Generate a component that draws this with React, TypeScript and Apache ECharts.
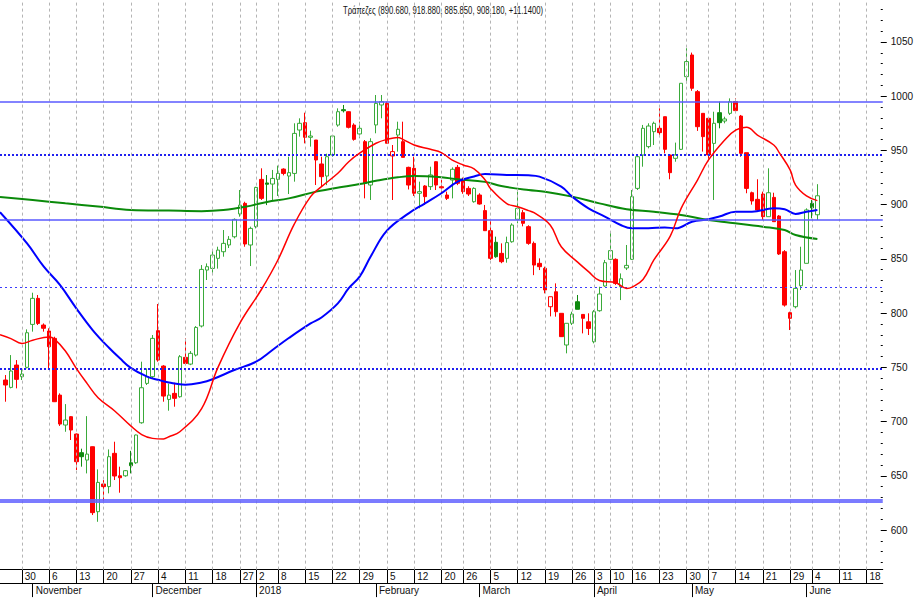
import React, { useEffect, useRef } from 'react';
import * as echarts from 'echarts';

// ---------- data ----------
const TITLE = 'Τράπεζες (890.680, 918.880, 885.850, 908.180, +11.1400)';
const HOLIDAYS = ['2017-12-25', '2017-12-26', '2018-01-01', '2018-02-19', '2018-03-30', '2018-04-02', '2018-04-06', '2018-04-09', '2018-05-01', '2018-05-28'];
const FIRST_DAY = [2017, 9, 24];
const LAST_DAY = [2018, 5, 21];
const MONTH_NAMES = ['', 'January', 'February', 'March', 'April', 'May', 'June', 'July', 'August', 'September', 'October', 'November', 'December'];

// candles from 2017-10-25 to 2018-06-05 (one per trading day)
const OPEN = [738.3, 731.5, 752.1, 741.4, 750.0, 789.6, 813.6, 789.0, 783.5, 776.7, 724.4, 696.8, 704.5, 688.5, 671.3, 664.5, 676.8, 616.9, 642.4, 640.0, 670.7, 650.0, 650.0, 662.0, 662.0, 698.9, 735.2, 741.4, 783.8, 751.2, 720.4, 726.0, 722.9, 759.2, 753.0, 761.3, 788.1, 839.7, 841.2, 850.5, 856.6, 862.8, 870.4, 891.4, 901.2, 862.8, 879.7, 923.3, 920.0, 919.0, 923.3, 932.8, 926.4, 928.8, 968.8, 975.6, 962.1, 959.6, 937.5, 926.4, 945.8, 973.4, 987.6, 985.7, 973.4, 965.2, 958.1, 918.1, 973.5, 991.9, 993.4, 944.9, 964.2, 958.1, 934.4, 933.5, 910.5, 917.2, 916.6, 939.6, 916.5, 908.9, 922.7, 934.4, 923.4, 915.0, 902.7, 908.9, 894.5, 876.0, 865.3, 855.1, 850.5, 865.8, 886.5, 892.6, 879.7, 864.3, 845.9, 841.3, 805.9, 819.7, 799.8, 770.6, 790.6, 810.5, 798.8, 792.0, 773.6, 802.2, 825.0, 849.6, 849.6, 824.3, 841.6, 849.6, 915.0, 945.8, 953.5, 967.3, 970.4, 981.1, 945.8, 942.7, 951.0, 1018.0, 1038.0, 1004.2, 984.2, 979.6, 956.5, 984.8, 977.1, 984.2, 995.0, 981.7, 947.9, 911.0, 904.9, 909.8, 888.9, 906.7, 889.5, 856.6, 800.4, 805.9, 825.2, 845.9, 901.2, 890.68];
const HIGH = [742.9, 761.3, 756.7, 749.0, 785.0, 818.8, 816.7, 790.5, 786.0, 778.2, 726.0, 716.1, 705.0, 689.0, 675.0, 705.0, 677.0, 655.9, 646.0, 674.3, 681.4, 658.4, 655.3, 673.0, 688.0, 755.2, 749.0, 779.8, 808.4, 752.0, 735.0, 735.8, 761.3, 776.7, 765.0, 788.0, 844.3, 845.8, 858.1, 861.2, 876.6, 871.0, 887.3, 913.5, 902.7, 879.7, 916.5, 933.5, 927.3, 932.0, 936.0, 933.5, 944.2, 975.0, 979.6, 984.8, 968.2, 959.6, 944.2, 947.0, 964.2, 988.8, 991.9, 986.0, 975.0, 976.5, 959.6, 961.2, 1001.1, 1001.1, 995.0, 955.0, 976.5, 976.5, 935.0, 944.2, 921.2, 918.0, 935.0, 940.0, 922.7, 912.0, 934.4, 936.6, 925.0, 917.0, 916.0, 910.5, 899.7, 885.9, 870.5, 864.3, 870.5, 882.8, 912.0, 895.0, 881.0, 866.0, 850.5, 842.8, 815.1, 827.4, 799.8, 790.6, 801.3, 816.7, 798.8, 799.8, 802.8, 824.3, 849.0, 874.2, 850.5, 836.6, 862.8, 913.5, 945.8, 973.5, 975.0, 976.5, 988.8, 981.1, 945.8, 957.2, 1011.9, 1044.2, 1040.2, 1005.7, 984.2, 979.6, 985.7, 995.0, 981.1, 998.0, 998.0, 982.7, 947.9, 912.0, 923.4, 912.0, 933.5, 911.0, 890.4, 858.1, 801.3, 839.7, 861.2, 896.6, 904.3, 918.88];
const LOW = [718.3, 730.6, 730.6, 738.3, 749.0, 782.9, 789.0, 782.9, 749.0, 718.0, 696.0, 690.6, 683.0, 655.3, 658.4, 652.2, 613.8, 607.6, 626.1, 633.8, 646.1, 634.4, 649.1, 652.2, 661.0, 698.0, 733.7, 740.0, 755.2, 718.3, 710.0, 713.7, 722.0, 753.6, 752.0, 760.0, 786.8, 830.5, 837.2, 841.0, 852.0, 860.0, 868.9, 888.9, 861.2, 843.4, 878.1, 904.3, 899.6, 904.3, 908.0, 927.0, 909.8, 921.2, 962.7, 956.5, 953.5, 918.1, 916.5, 918.0, 944.2, 971.9, 985.0, 970.3, 959.0, 961.2, 905.8, 904.3, 965.8, 979.6, 956.6, 904.3, 948.9, 943.6, 914.0, 908.0, 896.6, 899.7, 913.5, 913.5, 910.5, 904.3, 905.8, 918.0, 910.0, 908.0, 901.8, 900.0, 876.0, 849.0, 851.0, 846.0, 846.5, 864.9, 882.8, 880.0, 863.0, 835.0, 839.7, 818.2, 797.0, 796.7, 778.0, 762.9, 789.0, 803.5, 781.3, 779.8, 772.1, 801.3, 824.3, 849.0, 826.0, 812.0, 839.7, 849.0, 913.5, 935.0, 951.9, 955.0, 962.7, 947.3, 923.4, 939.6, 950.4, 1011.9, 1005.0, 968.0, 948.9, 941.2, 904.3, 970.4, 975.0, 982.7, 985.0, 944.2, 910.5, 900.0, 893.5, 885.9, 888.9, 884.3, 853.6, 806.0, 784.4, 804.4, 821.3, 845.9, 887.4, 885.85];
const CLOSE = [733.7, 746.6, 738.9, 743.8, 781.9, 813.6, 790.5, 786.0, 769.0, 718.3, 697.7, 701.4, 692.2, 663.0, 667.6, 670.0, 616.0, 643.9, 640.0, 667.6, 649.8, 648.2, 654.7, 659.3, 687.6, 731.2, 741.4, 776.7, 756.7, 723.5, 724.4, 721.4, 759.8, 753.6, 762.9, 786.8, 840.3, 842.8, 853.5, 858.1, 864.3, 868.0, 886.4, 899.6, 863.7, 878.1, 915.9, 905.8, 918.8, 924.2, 928.8, 928.8, 929.5, 965.7, 975.0, 962.1, 963.3, 941.2, 925.8, 944.2, 963.3, 985.7, 986.6, 971.3, 960.2, 970.4, 919.7, 958.1, 993.4, 995.0, 956.6, 948.9, 969.5, 943.6, 918.1, 910.5, 912.0, 907.4, 927.4, 918.1, 915.5, 905.8, 932.6, 919.7, 912.0, 909.8, 915.0, 900.6, 876.0, 850.5, 852.0, 847.4, 865.0, 881.2, 896.6, 882.8, 864.3, 844.3, 842.8, 821.3, 815.1, 801.3, 778.3, 790.6, 799.1, 803.5, 795.2, 785.9, 801.3, 817.6, 846.5, 857.6, 827.4, 831.7, 844.0, 907.4, 944.2, 970.4, 972.5, 975.0, 966.4, 951.0, 929.5, 945.8, 1011.9, 1031.9, 1007.3, 971.9, 962.7, 945.8, 975.0, 975.6, 979.0, 995.0, 986.7, 947.3, 915.0, 903.4, 895.0, 888.9, 911.0, 884.3, 854.5, 807.4, 795.2, 822.8, 839.7, 895.1, 897.04, 908.18];

// moving averages: [trading-day index from 2017-10-25, value]
const MA_RED = [[-1, 780], [1, 776.5], [3, 772], [5, 775], [8, 778], [9, 776], [11, 765], [13, 749], [15, 735], [17, 722], [20, 710], [23, 696], [25, 688], [27, 684.5], [29, 684], [30, 686], [32, 690.6], [36, 712], [39, 750], [43, 790.6], [47, 822], [50, 849], [53, 882], [56, 907.4], [58, 916.6], [61, 929], [63, 939.6], [65, 947.5], [68, 956.6], [70, 960.2], [72, 962], [73, 960], [75, 955], [78, 951], [80, 948], [82, 941], [84, 936.6], [86, 933], [88, 923], [89, 915], [92, 901], [94, 898], [96, 894.5], [97, 892.6], [100, 881], [102, 861.2], [105, 847], [107, 838.2], [109, 830], [112, 828], [114, 822.8], [115, 824], [117, 831], [119, 849], [122, 871], [124, 896.6], [127, 922.7], [129, 941], [132, 959.6], [134, 968.8], [136, 971.3], [138, 964.2], [141, 955], [142, 948], [144, 932], [145, 918], [147, 908], [149, 903.7]];
const MA_BLUE = [[-1, 893], [4, 864], [7, 843], [10, 826], [13, 804.4], [16, 784.4], [19, 768], [21, 758.3], [23, 749.5], [26, 741.4], [28, 738.5], [30, 736], [33, 734], [36, 736], [38, 739], [42, 747.5], [46, 755.2], [49, 766], [52, 777], [56, 790.5], [58, 796], [61, 809], [63, 823], [65, 833.6], [67, 852], [70, 876], [74, 892], [77, 901.2], [80, 910.5], [83, 921.2], [86, 926], [88, 928.3], [92, 927.4], [96, 927], [98, 925.8], [102, 916.6], [104, 907.4], [107, 896.6], [110, 889], [113, 881], [115, 878.2], [118, 878.2], [121, 879], [123, 878.2], [126, 884.3], [129, 886.5], [131, 889], [134, 893.5], [137, 893.5], [141, 896.6], [143, 895.7], [145, 891.4], [147, 893.5], [149, 895.1]];
const MA_GREEN = [[-1, 907], [5, 904.3], [11, 901.2], [17, 898.2], [23, 895.1], [30, 894.5], [36, 894], [40, 895], [44, 898], [48, 902.5], [52, 905.8], [57, 912], [62, 916.6], [65, 919], [68, 922], [72, 925.2], [75, 926.4], [80, 925.2], [83, 923.4], [88, 921], [91, 917.2], [96, 913.5], [99, 912], [104, 907.4], [109, 901.2], [114, 895.7], [119, 893.5], [124, 890.5], [129, 885.8], [133, 883.4], [139, 879.7], [143, 876.6], [145, 872], [149, 868.3]];

// horizontal levels
const LEVELS = [995, 946, 886, 824, 749, 627];
const Y_MAJOR = [600, 650, 700, 750, 800, 850, 900, 950, 1000, 1050];
const Y_MINOR = [570, 580, 590, 610, 620, 630, 640, 660, 670, 680, 690, 710, 720, 730, 740, 760, 770, 780, 790, 810, 820, 830, 840, 860, 870, 880, 890, 910, 920, 930, 940, 960, 970, 980, 990, 1010, 1020, 1030, 1040, 1060, 1070, 1080];

// ---------- styles ----------
const LEVEL_STYLES = [
  { color: '#5a5aff', width: 1.5, type: 'solid' },
  { color: '#2020f0', width: 2, type: [2, 2] },
  { color: '#5a5aff', width: 1.5, type: 'solid' },
  { color: '#3a3aff', width: 1, type: [2, 3] },
  { color: '#2020f0', width: 2, type: [2, 2] },
  { color: 'rgba(100,100,255,0.85)', width: 4, type: 'solid' },
];
const GRID_COLOR = '#b4b4b4';
const FONT = "'Liberation Sans', Arial, sans-serif";
const UP_GREEN = '#3aaa3a';
const FILL_GREEN = '#118a11';
const RED = '#ff0000';

function tradingDays(): string[] {
  const out: string[] = [];
  const d = new Date(Date.UTC(FIRST_DAY[0], FIRST_DAY[1], FIRST_DAY[2]));
  const end = Date.UTC(LAST_DAY[0], LAST_DAY[1], LAST_DAY[2]);
  while (d.getTime() <= end) {
    const wd = d.getUTCDay();
    const s = d.toISOString().slice(0, 10);
    if (wd !== 0 && wd !== 6 && !HOLIDAYS.includes(s)) out.push(s);
    d.setUTCDate(d.getUTCDate() + 1);
  }
  return out;
}

function weekKey(s: string): number {
  const t = Date.UTC(+s.slice(0, 4), +s.slice(5, 7) - 1, +s.slice(8, 10));
  const wd = (new Date(t).getUTCDay() + 6) % 7;
  return Math.round((t - wd * 86400000) / 86400000);
}

export default function App() {
  const ref = useRef<HTMLDivElement>(null);

  useEffect(() => {
    if (!ref.current) return;
    const chart = echarts.init(ref.current, null, { renderer: 'svg' });
    const days = tradingDays();
    const OFFSET = days.indexOf('2017-10-25');
    const weekStart = days.map((s, k) => k > 0 && weekKey(s) !== weekKey(days[k - 1]));
    const monthStart = days.map((s, k) => k > 0 && s.slice(5, 7) !== days[k - 1].slice(5, 7));
    const weekIdx = days.map((_, k) => k).filter((k) => weekStart[k]);

    const candles: any[] = [];
    for (let k = 0; k < OFFSET; k++) candles.push('-');
    OPEN.forEach((o, i) => {
      const c = CLOSE[i];
      const prev = i > 0 ? CLOSE[i - 1] : o;
      const rising = c > prev;
      const hollow = c >= o;
      const col = rising ? (hollow ? UP_GREEN : FILL_GREEN) : RED;
      const fill = hollow ? '#ffffff' : col;
      candles.push({
        value: [o, c, LOW[i], HIGH[i]],
        itemStyle: { color: fill, color0: fill, borderColor: col, borderColor0: col },
      });
    });

    const toLine = (arr: number[][]) => arr.map(([i, v]) => [i + OFFSET, v]);

    const fontBase = { fontFamily: FONT, fontSize: 10, color: '#111' };

    const levelLines = LEVELS.map((v, k) => ({ yAxis: v, lineStyle: LEVEL_STYLES[k] }));
    const weekLines = weekIdx.map((k) => ({ xAxis: days[k] }));

    chart.setOption({
      animation: false,
      backgroundColor: '#ffffff',
      grid: { left: 0, top: 0, width: 884.5, height: 569.6 },
      xAxis: [
        {
          type: 'category',
          data: days,
          boundaryGap: false,
          position: 'bottom',
          axisLine: { show: true, lineStyle: { color: '#000', width: 1 } },
          axisTick: { show: true, length: 13.5, interval: (idx: number) => weekStart[idx], lineStyle: { color: '#000' } },
          axisLabel: {
            ...fontBase,
            interval: (idx: number) => weekStart[idx],
            formatter: (v: string) => String(+v.slice(8, 10)),
            align: 'left',
            padding: [0, 0, 0, 3],
            margin: 2,
          },
          splitLine: { show: false },
        },
        {
          type: 'category',
          data: days,
          boundaryGap: false,
          position: 'bottom',
          offset: 13.5,
          axisLine: { show: true, lineStyle: { color: '#000', width: 1 } },
          axisTick: { show: true, length: 14, interval: (idx: number) => monthStart[idx], lineStyle: { color: '#000' } },
          axisLabel: {
            ...fontBase,
            interval: (idx: number) => monthStart[idx],
            formatter: (v: string) => {
              const m = +v.slice(5, 7);
              return m === 1 ? v.slice(0, 4) : MONTH_NAMES[m];
            },
            align: 'left',
            padding: [0, 0, 0, 3],
            margin: 2,
          },
          splitLine: { show: false },
        },
      ],
      yAxis: [
        {
          type: 'value',
          position: 'right',
          min: 563.5,
          max: 1088.7,
          offset: -2,
          axisLine: { show: false },
          axisTick: { show: true, length: 6, customValues: Y_MAJOR, lineStyle: { color: '#000' } },
          axisLabel: { ...fontBase, customValues: Y_MAJOR, margin: 10, formatter: (v: number) => String(v) },
          splitLine: { show: false },
        },
        {
          type: 'value',
          position: 'right',
          min: 563.5,
          max: 1088.7,
          offset: -2,
          axisLine: { show: false },
          axisTick: { show: true, length: 2, customValues: Y_MINOR, lineStyle: { color: '#000' } },
          axisLabel: { show: false },
          splitLine: { show: false },
        },
      ],
      graphic: [
        {
          type: 'text',
          x: 443,
          y: 4,
          scaleX: 0.7,
          style: { text: TITLE, textAlign: 'center', fontFamily: FONT, fontSize: 11, fill: '#111' },
        },
      ],
      series: [
        {
          type: 'line',
          xAxisIndex: 0,
          yAxisIndex: 0,
          data: toLine(MA_GREEN),
          showSymbol: false,
          lineStyle: { opacity: 0 },
          z: 1,
          silent: true,
          markLine: {
            silent: true,
            symbol: ['none', 'none'],
            label: { show: false },
            lineStyle: { color: GRID_COLOR, type: [3, 3], width: 1 },
            data: weekLines,
          },
        },
        {
          type: 'candlestick',
          xAxisIndex: 0,
          yAxisIndex: 0,
          data: candles,
          barWidth: 4,
          itemStyle: { borderWidth: 1 },
          z: 2,
          markLine: {
            silent: true,
            symbol: ['none', 'none'],
            label: { show: false },
            data: levelLines,
          },
        },
        {
          type: 'line', xAxisIndex: 0, yAxisIndex: 0, data: toLine(MA_GREEN), smooth: 0.4, showSymbol: false,
          lineStyle: { color: '#0a8a0a', width: 2 }, z: 3,
        },
        {
          type: 'line', xAxisIndex: 0, yAxisIndex: 0, data: toLine(MA_BLUE), smooth: 0.4, showSymbol: false,
          lineStyle: { color: '#0000ff', width: 2 }, z: 4,
        },
        {
          type: 'line', xAxisIndex: 0, yAxisIndex: 0, data: toLine(MA_RED), smooth: 0.4, showSymbol: false,
          lineStyle: { color: '#ff0000', width: 1.5 }, z: 5,
        },
      ],
    });
    return () => chart.dispose();
  }, []);

  return <div ref={ref} style={{ position: 'fixed', left: 0, top: 0, width: 916, height: 600 }} />;
}
